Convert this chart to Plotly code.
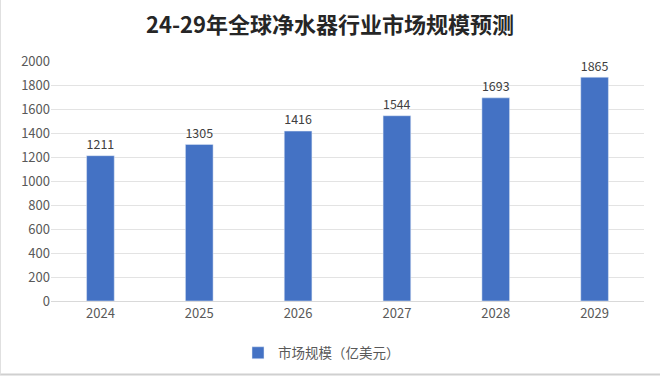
import plotly.graph_objects as go

years = ["2024", "2025", "2026", "2027", "2028", "2029"]
values = [1211, 1305, 1416, 1544, 1693, 1865]
series_name = "市场规模（亿美元）"
title = "24-29年全球净水器行业市场规模预测"

W, H = 660, 376
L, R, T, B = 51, 16, 61, 75
pw, ph = W - L - R, H - T - B

fig = go.Figure()
fig.add_trace(go.Bar(
    x=years, y=values, name=series_name,
    marker=dict(color="#4472C4"),
    text=[str(v) for v in values], textposition="outside",
    textfont=dict(size=13.5, color="#404040"),
    cliponaxis=False,
))

fig.update_layout(
    width=W, height=H,
    margin=dict(l=L, r=R, t=T, b=B, autoexpand=False),
    paper_bgcolor="white", plot_bgcolor="white",
    font=dict(family="Noto Sans CJK SC, sans-serif", color="#595959", size=13),
    title=dict(text="<b>" + title + "</b>", x=0.5, xanchor="center", y=1 - 25 / H, yanchor="middle",
               font=dict(size=22, color="#262626")),
    bargap=0.72,
    showlegend=True,
    legend=dict(orientation="h", x=(238 - L) / pw, xanchor="left", y=-(353 - T - ph) / ph,
                yanchor="middle", font=dict(size=13.5, color="#595959")),
    xaxis=dict(type="category", showline=True, linecolor="#D9D9D9", linewidth=1, ticks="",
               tickfont=dict(size=13), automargin=False),
    yaxis=dict(range=[0, 2000], dtick=200, gridcolor="#E3E3E3", zeroline=False,
               showline=False, tickfont=dict(size=13), automargin=False),
)
fig.add_shape(type="line", xref="paper", yref="paper", x0=-L / pw, x1=1 + R / pw,
              y0=-(B - 1.5) / ph, y1=-(B - 1.5) / ph, line=dict(color="#D0D0D0", width=2))
fig.add_shape(type="line", xref="paper", yref="paper", x0=-(L - 0.5) / pw, x1=-(L - 0.5) / pw,
              y0=-(B - 1.5) / ph, y1=1 + T / ph, line=dict(color="#E0E0E0", width=1))

fig.write_html("out.html", config={"displayModeBar": False},
               post_script="document.body.style.margin='0';")
